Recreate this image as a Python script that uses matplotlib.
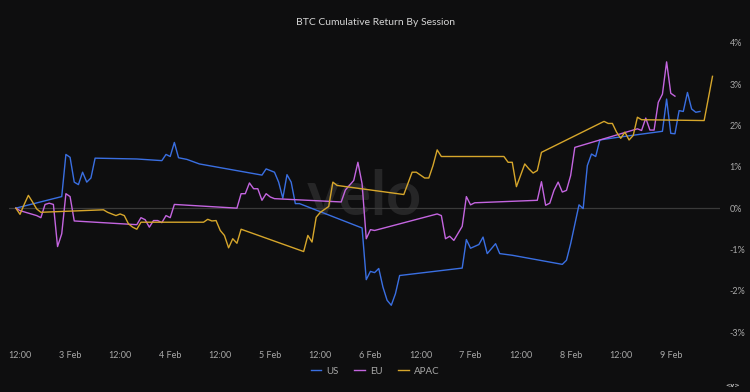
import pandas as pd
import matplotlib.pyplot as plt
import matplotlib.dates as mdates
from matplotlib.ticker import FuncFormatter

# hours since 2 Feb 00:00 and cumulative return (%) per session
us_hours = [11, 22, 23, 24, 25, 26, 27, 28, 29, 30, 40, 46, 47, 48, 49, 50, 52, 55,
            70, 71, 73, 74, 75, 76, 77, 78, 79, 94, 95, 96, 97, 98, 99, 100, 101, 102, 103,
            118, 119, 120, 122, 123, 124, 126, 127, 130, 142, 143, 144, 146, 147, 148, 149,
            150, 151, 155, 166, 167, 168, 169, 170, 171, 172, 173, 174, 175]
us_ret = [0.00, 0.28, 1.30, 1.23, 0.63, 0.57, 0.87, 0.63, 0.73, 1.21, 1.19, 1.15, 1.30, 1.25,
          1.59, 1.22, 1.18, 1.07, 0.80, 0.95, 0.87, 0.63, 0.24, 0.81, 0.63, 0.11, 0.11,
          -0.48, -1.73, -1.53, -1.56, -1.46, -1.91, -2.23, -2.35, -2.07, -1.63,
          -1.45, -0.76, -0.97, -0.88, -0.70, -1.10, -0.86, -1.10, -1.14, -1.36, -1.26, -0.86,
          0.08, -0.01, 1.03, 1.31, 1.25, 1.65, 1.71, 1.86, 2.64, 1.81, 1.80, 2.36, 2.34,
          2.80, 2.40, 2.32, 2.34]

eu_hours = [11, 12, 16, 17, 18, 19, 20, 21, 22, 23, 24, 25, 40, 41, 42, 43, 44, 45, 46, 47,
            48, 49, 64, 65, 66, 67, 68, 69, 70, 71, 72, 73, 89, 90, 92, 93, 94, 95, 96, 97,
            112, 113, 114, 115, 116, 118, 119, 120, 121, 136, 137, 138, 139, 140, 141, 142,
            143, 144, 145, 160, 161, 162, 163, 164, 165, 166, 167, 168, 169]
eu_ret = [0.00, -0.06, -0.18, -0.23, 0.09, 0.12, 0.09, -0.93, -0.62, 0.35, 0.28, -0.31,
          -0.40, -0.23, -0.28, -0.46, -0.30, -0.30, -0.35, -0.18, -0.23, 0.09,
          0.00, 0.35, 0.35, 0.61, 0.47, 0.47, 0.19, 0.35, 0.27, 0.23,
          0.15, 0.44, 0.67, 1.11, 0.59, -0.74, -0.52, -0.54,
          -0.14, -0.18, -0.74, -0.68, -0.78, -0.44, 0.28, 0.08, 0.13,
          0.19, 0.64, 0.07, 0.12, 0.43, 0.63, 0.39, 0.43, 0.79, 1.47,
          1.92, 1.88, 2.18, 1.89, 1.89, 2.56, 2.76, 3.54, 2.78, 2.71]

apac_hours = [11, 12, 13, 14, 15, 16, 17, 32, 33, 35, 36, 37, 38, 39, 40, 41, 56, 57, 58,
              59, 60, 61, 62, 63, 64, 65, 80, 81, 82, 83, 84, 86, 87, 88, 104, 106, 107, 109,
              110, 111, 112, 113, 128, 129, 130, 131, 133, 134, 135, 136, 137, 152, 153, 154,
              155, 156, 157, 158, 159, 160, 161, 176, 178]
apac_ret = [0.00, -0.15, 0.09, 0.31, 0.15, -0.02, -0.10, -0.04, -0.10, -0.18, -0.14, -0.18,
            -0.38, -0.46, -0.51, -0.34, -0.34, -0.27, -0.31, -0.30, -0.54, -0.66, -0.96,
            -0.74, -0.85, -0.51, -1.05, -0.66, -0.82, -0.22, -0.10, 0.04, 0.63, 0.55,
            0.33, 0.87, 0.87, 0.73, 0.73, 1.03, 1.41, 1.25, 1.25, 1.11, 1.11, 0.52, 1.07,
            0.95, 0.85, 0.91, 1.35, 2.10, 2.05, 2.05, 1.84, 1.69, 1.84, 1.65, 1.76, 2.20,
            2.14, 2.12, 3.19]

y_ticks = [4, 3, 2, 1, 0, -1, -2, -3]

start = pd.Timestamp('2025-02-02')


def to_time(hours):
    return start + pd.to_timedelta(hours, unit='h')


bg = '#0e0e0f'
fig = plt.figure(figsize=(7.5, 3.92), dpi=100, facecolor=bg)
ax = fig.add_axes([0.012, 0.1327, 0.948, 0.778], facecolor=bg)

ax.axhline(0, color='#3a3a3a', lw=0.9, zorder=1)
ax.text(0.5, 0.47, 'velo', transform=ax.transAxes, ha='center', va='center',
        fontsize=44, fontweight='bold', family='Lato', color='#262627', zorder=0)

ax.plot(to_time(us_hours), us_ret, color='#3a6fe2', lw=1.0, label='US', zorder=3)
ax.plot(to_time(eu_hours), eu_ret, color='#c465e0', lw=1.0, label='EU', zorder=3)
ax.plot(to_time(apac_hours), apac_ret, color='#d6a62b', lw=1.0, label='APAC', zorder=3)

ax.set_xlim(to_time(9.36), to_time(179.8))
ax.set_ylim(-3.19, 4.19)

ax.yaxis.tick_right()
ax.set_yticks(y_ticks)
ax.set_yticklabels([f'{t}%' for t in y_ticks])


def fmt_date(x, pos):
    d = mdates.num2date(x)
    if d.hour == 0:
        return f'{d.day} Feb'
    return d.strftime('%H:%M')


ax.xaxis.set_major_locator(mdates.HourLocator(byhour=[0, 12]))
ax.xaxis.set_major_formatter(FuncFormatter(fmt_date))

ax.tick_params(axis='both', length=0, labelsize=6.5, colors='#a8a8a8', labelfontfamily='Lato')
ax.tick_params(axis='x', pad=8)
ax.tick_params(axis='y', pad=7)
for s in ax.spines.values():
    s.set_visible(False)

fig.suptitle('BTC Cumulative Return By Session', y=0.955, fontsize=7.5,
             color='#d4d4d4', family='Lato')

leg = fig.legend(loc='center', bbox_to_anchor=(0.5, 0.053), ncol=3, frameon=False,
                 handlelength=1.1, handletextpad=0.5, columnspacing=1.6,
                 labelcolor='#a8a8a8', prop={'family': 'Lato', 'size': 7})

fig.text(0.987, 0.01, '<v>', ha='right', va='bottom', fontsize=4.5, color='#bbbbbb',
         fontweight='bold')

fig.savefig('out.png', dpi=100, facecolor=bg)
